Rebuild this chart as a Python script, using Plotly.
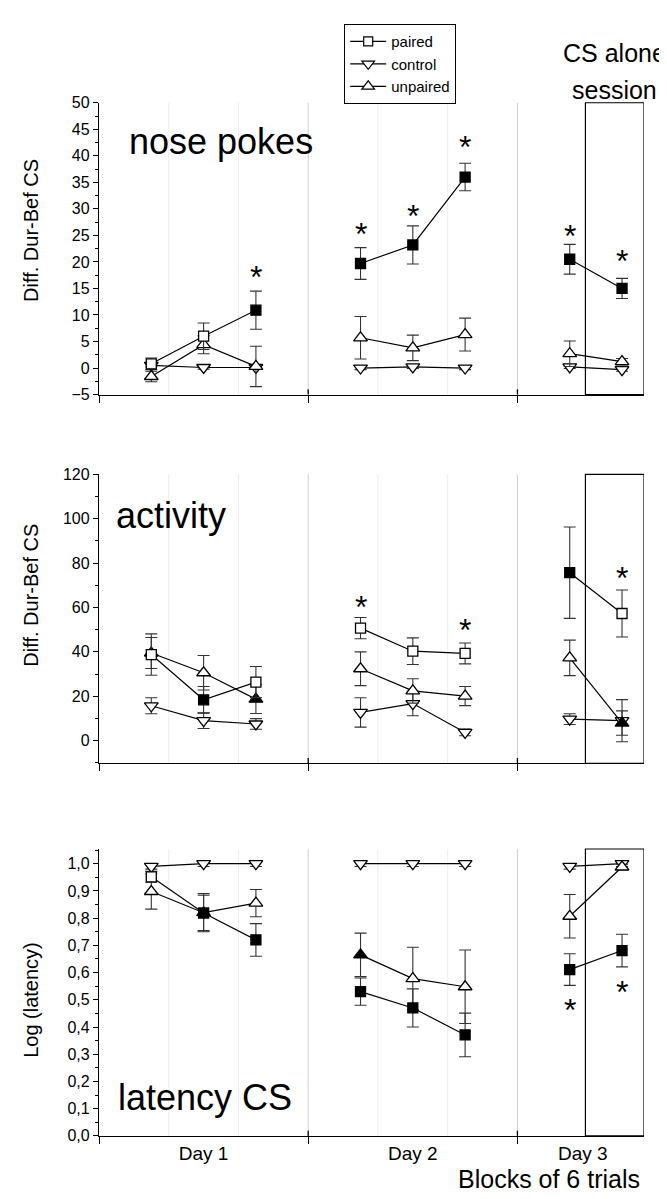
import plotly.graph_objects as go

# ---------------- data ----------------
blocks = [1, 2, 3, 5, 6, 7, 9, 10]
day_groups = [[0, 1, 2], [3, 4, 5], [6, 7]]
day_labels = ["Day 1", "Day 2", "Day 3"]
day_label_pos = [2, 6, 9.25]
series_names = ["paired", "control", "unpaired"]

# nose pokes (Diff. Dur-Bef CS)
np_paired = [0.8, 6.0, 10.9, 19.7, 23.2, 36.0, 20.5, 15.0]
np_paired_err = [1.1, 2.5, 3.6, 3.0, 3.6, 2.6, 2.8, 1.9]
np_paired_fill = [0, 0, 1, 1, 1, 1, 1, 1]
np_control = [0.5, 0.1, 0.1, 0.0, 0.2, 0.0, 0.2, -0.3]
np_control_err = [0.3, 0.3, 0.3, 0.3, 0.3, 0.3, 0.3, 0.3]
np_control_fill = [0, 0, 0, 0, 0, 0, 0, 0]
np_unpaired = [-1.6, 4.4, 0.3, 5.7, 3.8, 6.3, 2.7, 1.2]
np_unpaired_err = [1.0, 1.7, 3.8, 4.0, 2.4, 3.1, 2.4, 0.6]
np_unpaired_fill = [0, 0, 0, 0, 0, 0, 0, 0]
np_star_x = [3, 5, 6, 7, 9, 10]
np_star_y = [18.6, 26.8, 30.1, 43.1, 26.4, 21.6]

# activity (Diff. Dur-Bef CS)
act_paired = [38.8, 18.4, 26.4, 50.7, 40.3, 39.3, 75.7, 57.3]
act_paired_err = [9.3, 6.0, 7.0, 4.8, 6.0, 4.7, 20.6, 10.6]
act_paired_fill = [0, 1, 0, 0, 0, 0, 1, 0]
act_control = [15.7, 9.0, 7.5, 12.7, 16.7, 3.7, 9.7, 9.0]
act_control_err = [3.6, 3.5, 2.4, 6.6, 5.5, 1.5, 2.4, 9.5]
act_control_fill = [0, 0, 0, 0, 0, 0, 0, 0]
act_unpaired = [39.5, 30.6, 18.7, 32.4, 22.4, 20.1, 37.3, 7.9]
act_unpaired_err = [7.0, 7.8, 6.5, 7.6, 5.5, 4.3, 8.0, 5.5]
act_unpaired_fill = [1, 0, 1, 0, 0, 0, 0, 1]
act_star_x = [5, 7, 10]
act_star_y = [63.7, 53.5, 76.7]

# latency CS (Log (latency))
lat_paired = [0.952, 0.819, 0.72, 0.53, 0.47, 0.371, 0.611, 0.681]
lat_paired_err = [0.02, 0.065, 0.06, 0.05, 0.07, 0.08, 0.058, 0.06]
lat_paired_fill = [0, 1, 1, 1, 1, 1, 1, 1]
lat_control = [0.99, 1.0, 1.0, 1.0, 1.0, 1.0, 0.99, 1.0]
lat_control_err = [0.01, 0.01, 0.01, 0.01, 0.01, 0.01, 0.01, 0.01]
lat_control_fill = [0, 0, 0, 0, 0, 0, 0, 0]
lat_unpaired = [0.898, 0.82, 0.855, 0.665, 0.578, 0.548, 0.807, 0.988]
lat_unpaired_err = [0.065, 0.07, 0.05, 0.08, 0.115, 0.135, 0.08, 0.01]
lat_unpaired_fill = [0, 1, 0, 1, 0, 0, 0, 0]
lat_star_x = [9, 10]
lat_star_y = [0.493, 0.559]

# ---------------- layout constants ----------------
W, H = 667, 1199
ML, MR = 91, 31
FONT = "Liberation Sans, Arial, Helvetica, sans-serif"
XMAX = 10.42
BOX_X0 = 9.3


def px_x(px):
    return (px - ML) / (W - ML - MR)


def px_y(py):
    return 1 - py / H


symbols = {"paired": "square", "control": "triangle-down", "unpaired": "triangle-up"}
msize = {"paired": 10, "control": 12, "unpaired": 12}

panels = [
    dict(name="nose pokes", ax="", top=88, bot=384, rng=[-5, 50],
         tickvals=list(range(-5, 51, 5)), minor=2.5, fmt="d",
         data={"paired": (np_paired, np_paired_err, np_paired_fill),
               "control": (np_control, np_control_err, np_control_fill),
               "unpaired": (np_unpaired, np_unpaired_err, np_unpaired_fill)},
         stars=(np_star_x, np_star_y), title="Diff. Dur-Bef CS", title_y=218,
         label_x=119, label_y=127),
    dict(name="activity", ax="2", top=465, bot=758, rng=[-10.2, 120],
         tickvals=list(range(0, 121, 20)), minor=10, fmt="d",
         data={"paired": (act_paired, act_paired_err, act_paired_fill),
               "control": (act_control, act_control_err, act_control_fill),
               "unpaired": (act_unpaired, act_unpaired_err, act_unpaired_fill)},
         stars=(act_star_x, act_star_y), title="Diff. Dur-Bef CS", title_y=588,
         label_x=106, label_y=507),
    dict(name="latency CS", ax="3", top=845, bot=1136, rng=[0, 1.054],
         tickvals=[i / 10 for i in range(0, 11)], minor=0.05, fmt=".1f",
         data={"paired": (lat_paired, lat_paired_err, lat_paired_fill),
               "control": (lat_control, lat_control_err, lat_control_fill),
               "unpaired": (lat_unpaired, lat_unpaired_err, lat_unpaired_fill)},
         stars=(lat_star_x, lat_star_y), title="Log (latency)", title_y=998,
         label_x=108, label_y=1097),
]

fig = go.Figure()
shapes = []
annotations = []
layout_axes = {}

for i, p in enumerate(panels):
    xa = "x" + p["ax"]
    ya = "y" + p["ax"]
    for sname in ["control", "unpaired", "paired"]:
        vals, errs, fills = p["data"][sname]
        for grp in day_groups:
            fig.add_trace(go.Scatter(
                x=[blocks[k] for k in grp],
                y=[vals[k] for k in grp],
                error_y=dict(type="data", array=[errs[k] for k in grp], visible=True,
                             color="#333333", thickness=1.1, width=6),
                mode="lines+markers",
                line=dict(color="black", width=1.2),
                marker=dict(symbol=symbols[sname], size=msize[sname],
                            color=["black" if fills[k] else "white" for k in grp],
                            line=dict(color="black", width=1.3)),
                showlegend=False, xaxis=xa, yaxis=ya, hoverinfo="skip"))

    last = (i == len(panels) - 1)
    layout_axes["xaxis" + p["ax"]] = dict(
        domain=[0, 1], range=[0, XMAX], anchor=ya,
        showline=True, linecolor="black", linewidth=1.3,
        showgrid=False, zeroline=False,
        tickmode="array", tickvals=day_label_pos,
        ticktext=day_labels if last else ["", "", ""],
        showticklabels=last, ticks="outside", ticklen=0,
        tickfont=dict(family=FONT, size=19, color="black"),
        minor=dict(tickmode="array", tickvals=[0, 4, 8], ticks="outside",
                   ticklen=7, tickwidth=1.3, tickcolor="black", showgrid=False),
    )
    layout_axes["yaxis" + p["ax"]] = dict(
        domain=[px_y(p["bot"]), px_y(p["top"])], range=p["rng"], anchor=xa,
        showline=True, linecolor="black", linewidth=1.3,
        showgrid=False, zeroline=False,
        tickmode="array", tickvals=p["tickvals"], tickformat=p["fmt"],
        ticks="outside", ticklen=5, tickwidth=1.2, tickcolor="black",
        tickfont=dict(family=FONT, size=16, color="black"),
        minor=dict(dtick=p["minor"], tick0=0, ticks="outside", ticklen=3,
                   tickwidth=1, tickcolor="black", showgrid=False),
    )
    xref = "x" + p["ax"]
    yd = "y" + p["ax"] + " domain"
    for gx in [4 / 3, 8 / 3, 16 / 3, 20 / 3]:
        shapes.append(dict(type="line", xref=xref, yref=yd, x0=gx, x1=gx, y0=0, y1=1,
                           line=dict(color="#ededed", width=1), layer="below"))
    for gx in [4, 8]:
        shapes.append(dict(type="line", xref=xref, yref=yd, x0=gx, x1=gx, y0=0, y1=1,
                           line=dict(color="#cfcfcf", width=1), layer="below"))
        shapes.append(dict(type="line", xref=xref, yref=yd, x0=gx, x1=gx, y0=0, y1=0.018,
                           line=dict(color="black", width=1.3)))
    shapes.append(dict(type="rect", xref=xref, yref=yd, x0=BOX_X0, x1=XMAX, y0=0, y1=1,
                       line=dict(color="black", width=1.2)))
    # stars
    sx, sy = p["stars"]
    for a, b in zip(sx, sy):
        annotations.append(dict(x=a, y=b, xref=xref, yref=ya, text="*", showarrow=False,
                                font=dict(family=FONT, size=32, color="black"),
                                xanchor="center", yanchor="middle", yshift=-8))
    # panel label
    annotations.append(dict(x=px_x(p["label_x"]), y=px_y(p["label_y"]), xref="paper",
                            yref="paper", text=p["name"], showarrow=False,
                            xanchor="left", yanchor="middle",
                            font=dict(family=FONT, size=36, color="black")))
    # y title
    annotations.append(dict(x=px_x(23), y=px_y(p["title_y"]), xref="paper", yref="paper",
                            text=p["title"], textangle=-90, showarrow=False,
                            xanchor="center", yanchor="middle",
                            font=dict(family=FONT, size=20, color="black")))

annotations.append(dict(x=px_x(606), y=px_y(38), xref="paper", yref="paper",
                        text="CS alone", showarrow=False, xanchor="center", yanchor="middle",
                        font=dict(family=FONT, size=25, color="black")))
annotations.append(dict(x=px_x(606), y=px_y(75), xref="paper", yref="paper",
                        text="session", showarrow=False, xanchor="center", yanchor="middle",
                        font=dict(family=FONT, size=25, color="black")))
annotations.append(dict(x=px_x(634), y=px_y(1180), xref="paper", yref="paper",
                        text="Blocks of 6 trials", showarrow=False, xanchor="right",
                        yanchor="middle", font=dict(family=FONT, size=25, color="black")))

# legend-only traces
for sname in series_names:
    fig.add_trace(go.Scatter(
        x=[None], y=[None], mode="lines+markers", name=sname,
        line=dict(color="black", width=1.2),
        marker=dict(symbol=symbols[sname], size=msize[sname] - 1, color="white",
                    line=dict(color="black", width=1.2)),
        xaxis="x", yaxis="y", showlegend=True))

fig.update_layout(
    width=W, height=H,
    margin=dict(l=ML, r=MR, t=0, b=0),
    paper_bgcolor="white", plot_bgcolor="white",
    separators=",.",
    shapes=shapes, annotations=annotations,
    showlegend=True,
    legend=dict(x=px_x(336), y=px_y(8), xanchor="left", yanchor="top",
                bgcolor="white", bordercolor="black", borderwidth=1.2,
                font=dict(family=FONT, size=15, color="black"),
                itemwidth=36, tracegroupgap=0),
    **layout_axes,
)

fig.write_html("out.html")
